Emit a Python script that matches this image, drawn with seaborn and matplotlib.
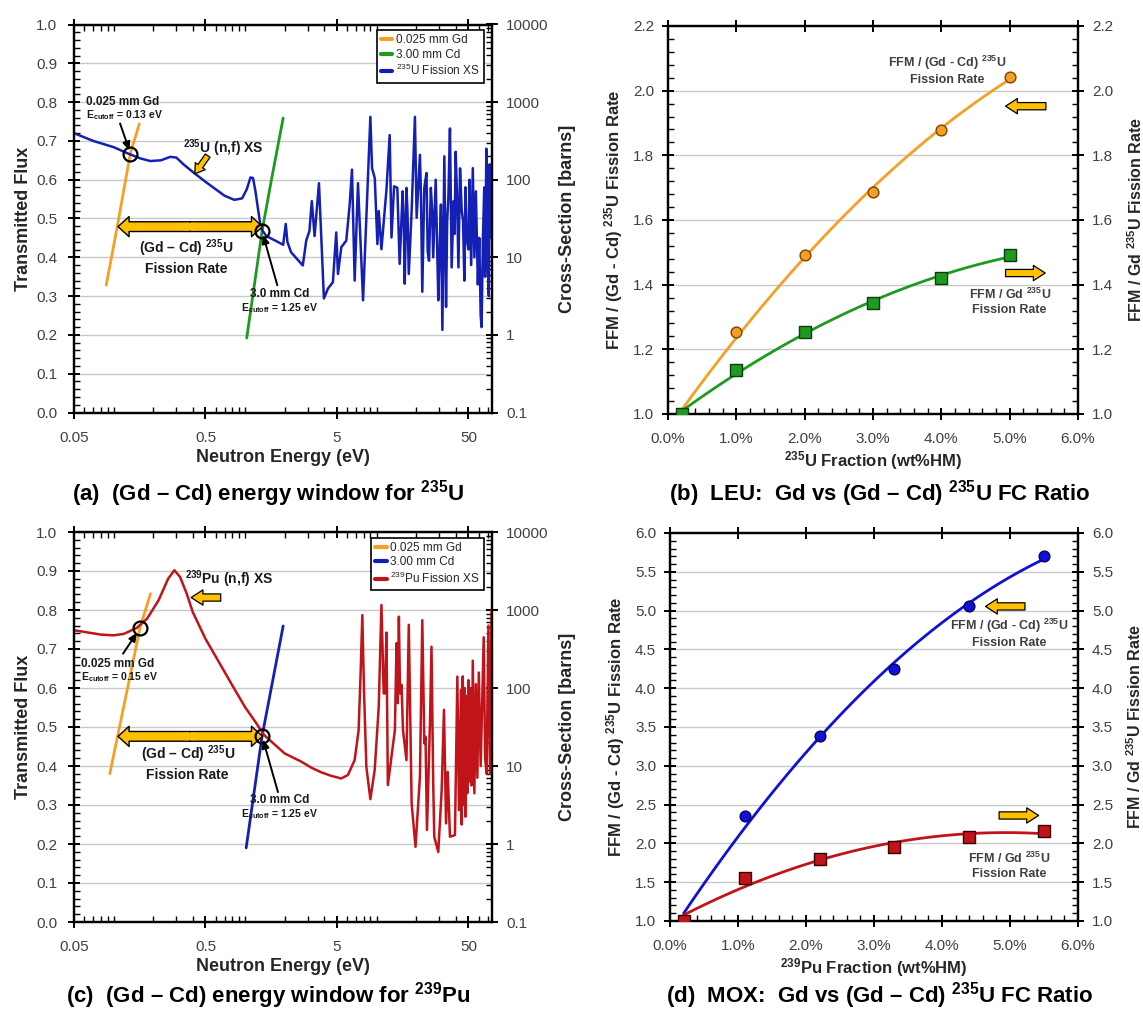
import numpy as np
import matplotlib
matplotlib.use("Agg")
import matplotlib.pyplot as plt
import matplotlib.ticker as mticker
import seaborn as sns

# ---- (a) 235U energy window ----
U235_E = [0.05, 0.07, 0.1, 0.13, 0.16, 0.19, 0.23, 0.27, 0.30, 0.34, 0.40, 0.5, 0.6, 0.7, 0.83,
          0.95, 1.03, 1.1, 1.15, 1.2, 1.26, 1.32, 1.45, 1.7, 1.95, 2.04, 2.1, 2.24, 2.75, 2.92,
          3.09, 3.22, 3.38, 3.65, 3.98, 4.27, 4.66, 4.94, 5.09, 5.4, 5.89, 6.25, 6.51, 6.82, 7.23,
          7.9, 8.98, 9.25, 9.7, 10.16, 10.4, 10.9, 11.9, 12.6, 13.0, 13.6, 14.4, 15.0, 15.8, 16.1,
          16.4, 16.9, 17.2, 17.6, 18.5, 19.6, 20.2, 21.4, 21.8, 22.3, 23.1, 24.0, 24.5, 25.1, 25.9,
          26.5, 27.0, 28.2, 28.8, 29.5, 30.2, 30.9, 31.7, 32.8, 33.8, 34.5, 35.2, 36.2, 37.3, 38.6,
          39.3, 40.0, 41.0, 42.0, 43.2, 44.5, 45.5, 46.6, 47.5, 48.5, 50.0, 51.0, 52.5, 54.0, 55.5,
          57.0, 59.0, 60.5, 62.0, 63.0, 64.5, 66.0, 67.0, 68.5, 70.0, 71.5, 72.5, 74.0, 75.0]
U235_XS = [398, 316, 263, 216, 188, 174, 178, 197, 193, 158, 126, 94, 75, 62, 55,
           57.5, 75, 107, 105, 71, 40, 23.7, 18.8, 16.4, 14.5, 26.9, 15.8, 11.6, 7.85, 16.4,
           21.9, 53.1, 18.8, 90.2, 2.95, 3.94, 4.79, 20.9, 6.1, 13.5, 16.4, 47.9, 135, 5.01, 90.2,
           2.79, 646, 141, 105, 14.8, 39.4, 12.7, 74.1, 376, 18.0, 82.2, 78.5, 8.22, 70.8, 30,
           4.57, 78.5, 40, 6.1, 39.4, 646, 32.4, 209, 60, 3.59, 78.5, 122, 12, 9.02, 78.5,
           40, 10, 100, 20, 2.79, 12, 47.9, 1.16, 200, 2.29, 30, 58.2, 457, 7.41, 53.1,
           20, 229, 60, 7.41, 140, 39.4, 30, 5.01, 80, 17.8, 12.6, 100, 7.94, 141, 10,
           70.8, 4.47, 17.8, 1.78, 1.26, 17.8, 79.4, 5.6, 251, 10, 3.16, 158, 17.8, 56]
GD_A_E = [0.0879, 0.108, 0.134, 0.157]
GD_A_T = [0.328, 0.489, 0.667, 0.744]
CD_A_E = [1.03, 1.347, 1.59, 1.95]
CD_A_T = [0.192, 0.467, 0.601, 0.759]

# ---- (c) 239Pu energy window ----
PU239_E = [0.05, 0.08, 0.1, 0.12, 0.15, 0.18, 0.22, 0.26, 0.29, 0.32, 0.36, 0.4, 0.5, 0.6, 0.7,
           0.8, 1.0, 1.2, 1.4, 2.0, 2.67, 3.2, 3.8, 4.5, 5.39, 6.06, 6.82, 7.31, 7.57, 7.80,
           8.03, 8.37, 8.98, 9.69, 10.4, 10.9, 11.35, 11.6, 11.9, 12.2, 13.0, 13.8, 14.2, 14.5, 14.8,
           15.1, 15.5, 15.9, 16.9, 17.6, 18.5, 19.8, 21.4, 22.3, 23.1, 23.6, 24.2, 25.5, 26.2, 27.0,
           27.5, 29.5, 31.3, 32.6, 33.8, 34.8, 36.2, 39.5, 41.2, 42.4, 43.9, 44.4, 45.3, 46.0, 46.8,
           47.4, 48.0, 49.0, 50.0, 50.8, 52.0, 53.0, 54.0, 55.5, 57.0, 58.5, 60.0, 62.0, 65.4, 67.0,
           68.8, 71.0, 73.0, 75.0]
PU239_XS = [550, 484, 473, 495, 589, 776, 1334, 2512, 3236, 2661, 1622, 944, 427, 251, 160,
            108, 56.9, 36.7, 24.8, 14.5, 11.4, 9.5, 8.3, 7.5, 6.92, 7.67, 11.9, 28.8, 155, 861,
            94.4, 9.77, 3.76, 8.91, 57.5, 1161, 85.1, 85.1, 513, 5.69, 13.2, 28.8, 376, 63.8, 822,
            85.1, 110, 28.8, 11.9, 646, 3.31, 0.92, 7.33, 741, 19.5, 23.7, 1.51, 35.1, 339, 6.03,
            1.24, 0.79, 4.9, 52.5, 1.84, 8.41, 1.24, 1.30, 140, 2.72, 94.4, 1.78, 141, 3.16, 100,
            2.24, 79.4, 4.47, 126, 6.31, 100, 5.62, 224, 4.47, 112, 7.08, 158, 10, 447, 12.6,
            7.94, 631, 7.94, 1000]
GD_C_E = [0.0936, 0.122, 0.159, 0.191]
GD_C_T = [0.380, 0.567, 0.755, 0.842]
CD_C_E = [1.02, 1.347, 1.59, 1.95]
CD_C_T = [0.190, 0.476, 0.603, 0.759]

# ---- (b) LEU and (d) MOX fission-rate ratios ----
LEU_FRAC = [0.2, 1.0, 2.0, 3.0, 4.0, 5.0]
LEU_GDCD = [1.0, 1.253, 1.492, 1.688, 1.877, 2.042]
LEU_GD = [1.0, 1.136, 1.254, 1.343, 1.421, 1.492]
MOX_FRAC = [0.2, 1.1, 2.2, 3.3, 4.4, 5.5]
MOX_GDCD = [1.0, 2.354, 3.39, 4.25, 5.06, 5.71]
MOX_GD = [1.0, 1.56, 1.80, 1.96, 2.08, 2.165]

ORANGE = '#F5A024'
GREEN = '#1E9A1E'
BLUE = '#1420B4'
RED = '#C0141A'
YELLOW = '#FFC000'
TICK_C = '#404040'
LABEL_C = '#262626'

sns.set_theme(style="ticks")
plt.rcParams['font.family'] = ['Liberation Sans', 'DejaVu Sans']
plt.rcParams['mathtext.fontset'] = 'custom'
plt.rcParams['mathtext.rm'] = 'Liberation Sans'
plt.rcParams['mathtext.it'] = 'Liberation Sans:italic'
plt.rcParams['mathtext.bf'] = 'Liberation Sans:bold'

W, H = 1143, 1011
fig = plt.figure(figsize=(W / 100, H / 100), dpi=100)
ax_a = fig.add_axes([74 / W, 1 - 412.5 / H, 418 / W, 388 / H])
ax_b = fig.add_axes([668 / W, 1 - 414 / H, 410 / W, 388 / H])
ax_c = fig.add_axes([74 / W, 1 - 922 / H, 418 / W, 390 / H])
ax_d = fig.add_axes([670 / W, 1 - 921 / H, 408 / W, 388 / H])


def frame(ax):
    for s in ax.spines.values():
        s.set_color('black')
        s.set_linewidth(1.6)
        s.set_visible(True)
    ax.tick_params(which='major', direction='inout', length=8, width=1.4, color='black',
                   labelcolor=TICK_C, labelsize=11, pad=6)
    ax.tick_params(which='minor', direction='in', length=4, width=1.0, color='black')


def block_arrow(host, tip, tail, trans, scale=10):
    host.annotate('', xy=tip, xytext=tail, xycoords=trans, textcoords=trans,
                  arrowprops=dict(arrowstyle='simple,head_length=0.85,head_width=1.1,tail_width=0.52',
                                  mutation_scale=scale, fc=YELLOW, ec='black', lw=0.9,
                                  shrinkA=0, shrinkB=0))


def double_arrow(host, x_left, x_right, y, trans):
    x_mid = np.sqrt(x_left * x_right)
    style = 'simple,head_length=0.8,head_width=1.45,tail_width=0.7'
    for tip in (x_left, x_right):
        host.annotate('', xy=(tip, y), xytext=(x_mid, y), xycoords=trans, textcoords=trans,
                      arrowprops=dict(arrowstyle=style, mutation_scale=10, fc=YELLOW, ec='black',
                                      lw=1.0, shrinkA=0, shrinkB=0))
    # hide the seam where the two halves meet
    host.annotate('', xy=(x_mid * 1.1, y), xytext=(x_mid / 1.1, y), xycoords=trans, textcoords=trans,
                  arrowprops=dict(arrowstyle='-', color=YELLOW, lw=5.6, shrinkA=0, shrinkB=0))


def pointer(host, tip, tail, trans):
    host.annotate('', xy=tip, xytext=tail, xycoords=trans, textcoords=trans,
                  arrowprops=dict(arrowstyle='-|>,head_length=0.5,head_width=0.22', mutation_scale=10,
                                  color='black', lw=1.4, shrinkA=0, shrinkB=0))


def window_panel(ax, gd_e, gd_t, cd_e, cd_t, cd_color, xs_e, xs_b, xs_color, xs_label):
    ax.set_xscale('log')
    sns.lineplot(x=gd_e, y=gd_t, ax=ax, color=ORANGE, lw=2, estimator=None, sort=False)
    sns.lineplot(x=cd_e, y=cd_t, ax=ax, color=cd_color, lw=2, estimator=None, sort=False)
    ax2 = ax.twinx()
    ax2.set_yscale('log')
    sns.lineplot(x=xs_e, y=xs_b, ax=ax2, color=xs_color, lw=1.8, estimator=None, sort=False)

    ax.set_xlim(0.05, 75.6)
    ax.set_ylim(0, 1)
    ax2.set_ylim(0.1, 10000)
    frame(ax)
    frame(ax2)
    ax.xaxis.set_major_locator(mticker.FixedLocator([0.05, 0.5, 5, 50]))
    ax.xaxis.set_major_formatter(mticker.FuncFormatter(lambda v, p: f'{v:g}'))
    ax.xaxis.set_minor_locator(mticker.LogLocator(base=10, subs=np.arange(1, 10), numticks=50))
    ax.xaxis.set_minor_formatter(mticker.NullFormatter())
    ax.yaxis.set_major_locator(mticker.MultipleLocator(0.1))
    ax.yaxis.set_minor_locator(mticker.MultipleLocator(0.02))
    ax.yaxis.set_major_formatter(mticker.FormatStrFormatter('%.1f'))
    ax.tick_params(axis='x', which='both', top=True, bottom=True)
    ax.tick_params(axis='x', which='major', pad=9)
    ax.tick_params(axis='y', which='major', pad=8)
    ax2.yaxis.set_major_locator(mticker.LogLocator(base=10, numticks=20))
    ax2.yaxis.set_minor_locator(mticker.LogLocator(base=10, subs=np.arange(2, 10), numticks=50))
    ax2.yaxis.set_major_formatter(mticker.FuncFormatter(lambda v, p: f'{v:g}'))
    ax2.yaxis.set_minor_formatter(mticker.NullFormatter())
    ax.yaxis.grid(True, color='#c8c8c8', lw=1)
    ax.xaxis.grid(False)
    ax2.grid(False)

    ax.set_xlabel('Neutron Energy (eV)', fontsize=13, fontweight='bold', color=LABEL_C, labelpad=3)
    ax.set_ylabel('Transmitted Flux', fontsize=13, fontweight='bold', color=LABEL_C, labelpad=3)
    ax2.set_ylabel('Cross-Section [barns]', fontsize=13, fontweight='bold', color=LABEL_C, labelpad=8)

    handles = ax.get_lines()[:2] + ax2.get_lines()[:1]
    labels = ['0.025 mm Gd', '3.00 mm Cd', xs_label]
    leg = ax2.legend(handles, labels, loc='upper right', bbox_to_anchor=(0.98, 0.985), fontsize=8.5,
                     frameon=True, fancybox=False, edgecolor='black', framealpha=1, handlelength=1.0,
                     handletextpad=0.3, labelspacing=0.2, borderpad=0.35, borderaxespad=0)
    leg.get_frame().set_linewidth(1.2)
    for ln in leg.get_lines():
        ln.set_linewidth(3)
    return ax2


def ratio_panel(ax, frac, left_vals, right_vals, left_color, right_color, left_edge, right_edge,
                ymax, ystep, yminor, xlabel):
    sns.regplot(x=frac, y=left_vals, order=2, ci=None, scatter=False, truncate=True, ax=ax,
                line_kws=dict(color=left_color, lw=2))
    sns.scatterplot(x=frac, y=left_vals, ax=ax, marker='o', s=60, color=left_color,
                    edgecolor=left_edge, linewidth=1, zorder=4)
    ax2 = ax.twinx()
    sns.regplot(x=frac, y=right_vals, order=2, ci=None, scatter=False, truncate=True, ax=ax2,
                line_kws=dict(color=right_color, lw=2))
    sns.scatterplot(x=frac, y=right_vals, ax=ax2, marker='s', s=70, color=right_color,
                    edgecolor=right_edge, linewidth=1, zorder=4)
    ax.set_xlim(0, 6)
    for a in (ax, ax2):
        a.set_ylim(1.0, ymax)
        frame(a)
        a.yaxis.set_major_locator(mticker.MultipleLocator(ystep))
        a.yaxis.set_minor_locator(mticker.MultipleLocator(yminor))
        a.yaxis.set_major_formatter(mticker.FormatStrFormatter('%.1f'))
        a.grid(False)
    ax.xaxis.set_major_locator(mticker.MultipleLocator(1))
    ax.xaxis.set_minor_locator(mticker.MultipleLocator(0.2))
    ax.xaxis.set_major_formatter(mticker.FuncFormatter(lambda v, p: f'{v:.1f}%'))
    ax.tick_params(axis='x', which='major', top=True, pad=9)
    ax.tick_params(axis='x', which='minor', top=False)
    ax.yaxis.grid(True, color='#c8c8c8', lw=1)
    ax.set_xlabel(xlabel, fontsize=12, fontweight='bold', color=LABEL_C, labelpad=2)
    ax.set_ylabel(r'FFM / (Gd - Cd) $^{\mathbf{235}}$U Fission Rate', fontsize=12,
                  fontweight='bold', color=LABEL_C, labelpad=6)
    ax2.set_ylabel(r'FFM / Gd $^{\mathbf{235}}$U Fission Rate', fontsize=11.5,
                   fontweight='bold', color=LABEL_C)
    ax2.yaxis.set_label_coords(1.117, 0.5)
    return ax2


def note(host, x, y, s, trans, size=9, ha='center', color='#1a1a1a'):
    host.text(x, y, s, transform=trans, fontsize=size, fontweight='bold', color=color,
              ha=ha, va='center', linespacing=1.25)


# ---- panel (a) ----
a2 = window_panel(ax_a, GD_A_E, GD_A_T, CD_A_E, CD_A_T, GREEN, U235_E, U235_XS, BLUE,
                  r'$^{235}$U Fission XS')
ta = ax_a.transData
for cx, cy in [(0.134, 0.667), (1.347, 0.467)]:
    a2.plot([cx], [cy], marker='o', ms=10, mfc='none', mec='black', mew=1.6, transform=ta, zorder=6)
note(a2, 0.0617, 0.801, '0.025 mm Gd', ta, size=8.5, ha='left')
note(a2, 0.0617, 0.767, r'E$_{\mathbf{cutoff}}$ = 0.13 eV', ta, size=7.5, ha='left')
pointer(a2, (0.132, 0.675), (0.112, 0.745), ta)
note(a2, 0.34, 0.681, r'$^{\mathbf{235}}$U (n,f) XS', ta, size=10, ha='left')
block_arrow(a2, (0.415, 0.615), (0.52, 0.662), ta, scale=8)
double_arrow(a2, 0.108, 1.36, 0.479, ta)
note(a2, 0.359, 0.402, '(Gd – Cd) $^{\\mathbf{235}}$U\nFission Rate', ta, size=10)
note(a2, 1.82, 0.305, '3.0 mm Cd', ta, size=8.5)
note(a2, 1.82, 0.269, r'E$_{\mathbf{cutoff}}$ = 1.25 eV', ta, size=7.5)
pointer(a2, (1.37, 0.458), (1.76, 0.328), ta)

# ---- panel (c) ----
c2 = window_panel(ax_c, GD_C_E, GD_C_T, CD_C_E, CD_C_T, BLUE, PU239_E, PU239_XS, RED,
                  r'$^{239}$Pu Fission XS')
tc = ax_c.transData
for cx, cy in [(0.159, 0.755), (1.347, 0.476)]:
    c2.plot([cx], [cy], marker='o', ms=10, mfc='none', mec='black', mew=1.6, transform=tc, zorder=6)
note(c2, 0.35, 0.879, r'$^{\mathbf{239}}$Pu (n,f) XS', tc, size=10, ha='left')
block_arrow(c2, (0.389, 0.832), (0.653, 0.832), tc)
note(c2, 0.0567, 0.662, '0.025 mm Gd', tc, size=8.5, ha='left')
note(c2, 0.0567, 0.627, r'E$_{\mathbf{cutoff}}$ = 0.15 eV', tc, size=7.5, ha='left')
pointer(c2, (0.151, 0.742), (0.118, 0.688), tc)
double_arrow(c2, 0.108, 1.36, 0.476, tc)
note(c2, 0.366, 0.408, '(Gd – Cd) $^{\\mathbf{235}}$U\nFission Rate', tc, size=10)
note(c2, 1.82, 0.314, '3.0 mm Cd', tc, size=8.5)
note(c2, 1.82, 0.276, r'E$_{\mathbf{cutoff}}$ = 1.25 eV', tc, size=7.5)
pointer(c2, (1.37, 0.468), (1.78, 0.333), tc)

# ---- panel (b) ----
b2 = ratio_panel(ax_b, LEU_FRAC, LEU_GDCD, LEU_GD, ORANGE, GREEN, '#7a4300', '#0f3a0f',
                 2.2, 0.2, 0.04, r'$^{\mathbf{235}}$U Fraction (wt%HM)')
tb = b2.transData
note(b2, 4.08, 2.064, 'FFM / (Gd - Cd) $^{\\mathbf{235}}$U\nFission Rate', tb, size=9, color=TICK_C)
block_arrow(b2, (4.94, 1.952), (5.53, 1.952), tb)
block_arrow(b2, (5.52, 1.436), (4.94, 1.436), tb)
note(b2, 5.0, 1.348, 'FFM / Gd $^{\\mathbf{235}}$U\nFission Rate', tb, size=9, color=TICK_C)

# ---- panel (d) ----
d2 = ratio_panel(ax_d, MOX_FRAC, MOX_GDCD, MOX_GD, '#1010D8', RED, '#05055a', '#3a0000',
                 6.0, 0.5, 0.1, r'$^{\mathbf{239}}$Pu Fraction (wt%HM)')
td = d2.transData
block_arrow(d2, (4.64, 5.054), (5.22, 5.054), td)
note(d2, 4.99, 4.717, 'FFM / (Gd - Cd) $^{\\mathbf{235}}$U\nFission Rate', td, size=9, color=TICK_C)
block_arrow(d2, (5.42, 2.36), (4.84, 2.36), td)
note(d2, 4.99, 1.716, 'FFM / Gd $^{\\mathbf{235}}$U\nFission Rate', td, size=9, color=TICK_C)

# ---- captions ----
cap = dict(ha='center', va='center', fontsize=16, fontweight='bold', color='black')
fig.text(268 / W, 1 - 494 / H, r'(a)  (Gd – Cd) energy window for $^{\mathbf{235}}$U', **cap)
fig.text(880 / W, 1 - 494 / H, r'(b)  LEU:  Gd vs (Gd – Cd) $^{\mathbf{235}}$U FC Ratio', **cap)
fig.text(268 / W, 1 - 996 / H, r'(c)  (Gd – Cd) energy window for $^{\mathbf{239}}$Pu', **cap)
fig.text(880 / W, 1 - 996 / H, r'(d)  MOX:  Gd vs (Gd – Cd) $^{\mathbf{235}}$U FC Ratio', **cap)

fig.savefig('out.png', dpi=100)
